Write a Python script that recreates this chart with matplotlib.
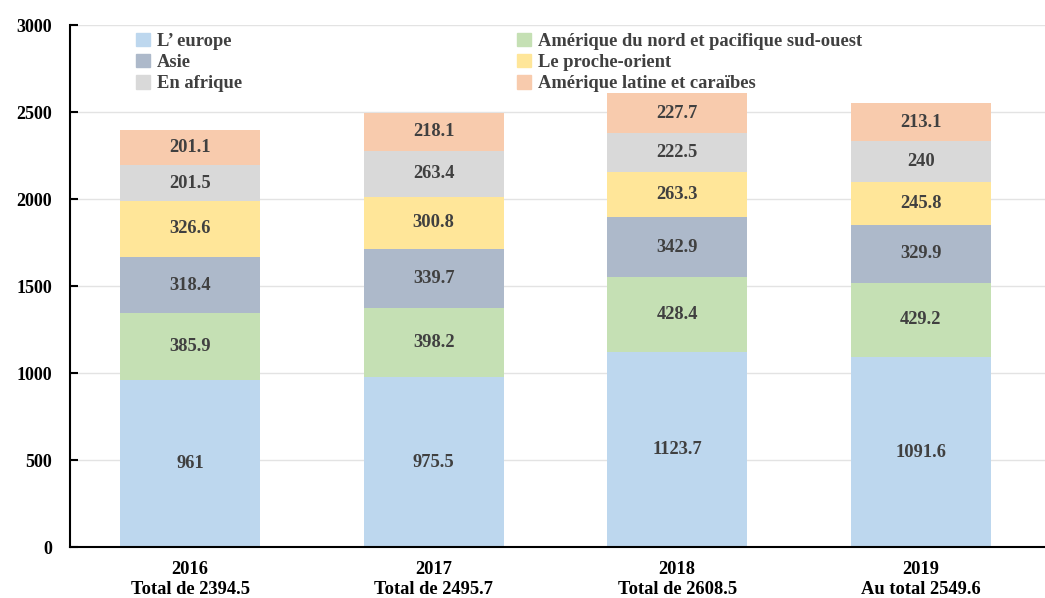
import numpy as np
import matplotlib
matplotlib.use("Agg")
import matplotlib.pyplot as plt
from matplotlib.patches import Patch

plt.rcParams["font.family"] = ["Liberation Serif", "DejaVu Serif"]
plt.rcParams["font.weight"] = "bold"

years = ["2016", "2017", "2018", "2019"]
totals = ["Total de 2394.5", "Total de 2495.7", "Total de 2608.5", "Au total 2549.6"]

europe = [961, 975.5, 1123.7, 1091.6]
nord = [385.9, 398.2, 428.4, 429.2]
asie = [318.4, 339.7, 342.9, 329.9]
proche = [326.6, 300.8, 263.3, 245.8]
afrique = [201.5, 263.4, 222.5, 240]
latine = [201.1, 218.1, 227.7, 213.1]

series = [
    ("L’ europe", europe, "#BDD7EE"),
    ("Amérique du nord et pacifique sud-ouest", nord, "#C5E0B4"),
    ("Asie", asie, "#ADB9CA"),
    ("Le proche-orient", proche, "#FFE699"),
    ("En afrique", afrique, "#D9D9D9"),
    ("Amérique latine et caraïbes", latine, "#F8CBAD"),
]

fig = plt.figure(figsize=(10.45, 5.98), dpi=100)
ax = fig.add_axes([0.067, 0.085, 0.933, 0.873])

x = np.arange(len(years))
bottom = np.zeros(len(years))
handles = {}
for name, vals, color in series:
    vals = np.array(vals, dtype=float)
    ax.bar(x, vals, 0.575, bottom=bottom, color=color, zorder=2)
    handles[name] = Patch(color=color)
    for xi, b, v in zip(x, bottom, vals):
        ax.text(xi, b + v / 2, f"{v:g}", ha="center", va="center",
                fontsize=13.3, color="#404040", fontweight="bold", zorder=3)
    bottom += vals

ax.set_ylim(0, 3000)
ax.set_xlim(-0.493, 3.51)
ax.set_yticks(np.arange(0, 3001, 500))
ax.yaxis.grid(True, color="#E3E3E3", linewidth=1, zorder=0)
ax.set_axisbelow(True)
ax.set_xticks(x)
ax.set_xticklabels([f"{y}\n{t}" for y, t in zip(years, totals)],
                   fontsize=13.3, fontweight="bold", linespacing=1.25)
ax.tick_params(axis="x", length=0, pad=10)
ax.tick_params(axis="y", direction="in", length=6, width=1.5,
               labelsize=13, pad=13)
for lab in ax.get_yticklabels():
    lab.set_fontweight("bold")
for s in ["top", "right"]:
    ax.spines[s].set_visible(False)
ax.spines["left"].set_linewidth(1.5)
ax.spines["bottom"].set_linewidth(1.5)

left_names = ["L’ europe", "Asie", "En afrique"]
right_names = ["Amérique du nord et pacifique sud-ouest", "Le proche-orient",
               "Amérique latine et caraïbes"]
common = dict(frameon=False, handlelength=0.75, handleheight=0.75,
              handletextpad=0.4, labelspacing=0.22, borderaxespad=0,
              labelcolor="#404040", prop={"weight": "bold", "size": 13.3})
leg1 = ax.legend([handles[n] for n in left_names], left_names,
                 loc="upper left", bbox_to_anchor=(0.060, 1.0), **common)
ax.add_artist(leg1)
ax.legend([handles[n] for n in right_names], right_names,
          loc="upper left", bbox_to_anchor=(0.451, 1.0), **common)

fig.savefig("out.png", dpi=100)
